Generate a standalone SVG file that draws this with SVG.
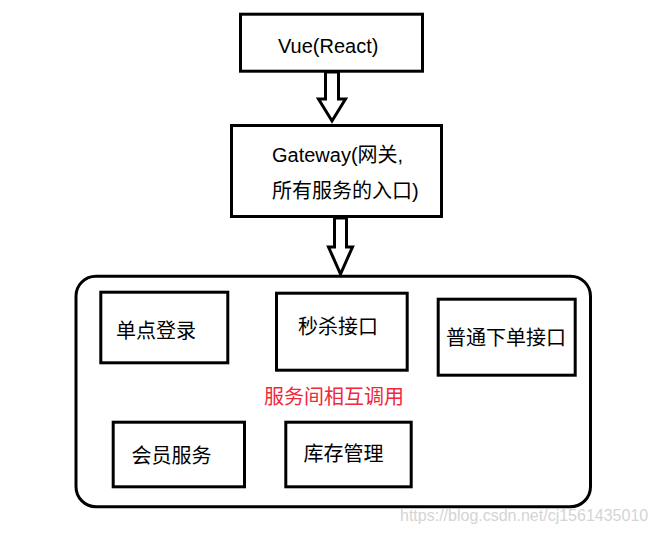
<svg xmlns="http://www.w3.org/2000/svg" width="656" height="533" viewBox="0 0 656 533">
<style>
.box{fill:#fff;stroke:#000;stroke-width:3}
.arr{fill:#fff;stroke:#000;stroke-width:3;stroke-linejoin:miter}
.t{font-family:"Liberation Sans","Noto Sans CJK SC",sans-serif;font-size:20px;fill:#000}
.red{fill:#f0283c}
.wm{font-family:"Liberation Sans",sans-serif;font-size:16px;fill:#d4d4d4}
</style>
<rect x="0" y="0" width="656" height="533" fill="#fff"/>
<g id="container">
<rect class="box" x="76" y="276.2" width="514.5" height="230.5" rx="20" ry="20"/>
</g>
<g id="vue">
<rect class="box" x="240.5" y="14.2" width="182" height="57"/>
<text class="t" x="278" y="53">Vue(React)</text>
</g>
<g id="gateway">
<rect class="box" x="231.5" y="125.5" width="210" height="91"/>
<text class="t" x="272" y="162">Gateway(网关,</text>
<text class="t" x="272" y="198">所有服务的入口)</text>
</g>
<g id="connectors">
<polygon class="arr" points="325.5,72 338.5,72 338.5,99 345.5,99 332,121 318.5,99 325.5,99"/>
<polygon class="arr" points="334.5,218 346.5,218 346.5,247 352.5,247 340.5,274 328.5,247 334.5,247"/>
</g>
<g id="sso">
<rect class="box" x="100.8" y="292.2" width="127" height="70.6"/>
<text class="t" x="116" y="338">单点登录</text>
</g>
<g id="seckill">
<rect class="box" x="276.5" y="293.2" width="130.7" height="77"/>
<text class="t" x="298" y="334">秒杀接口</text>
</g>
<g id="order">
<rect class="box" x="438.2" y="299.2" width="137" height="76"/>
<text class="t" x="446" y="345">普通下单接口</text>
</g>
<g id="member">
<rect class="box" x="113.2" y="422.2" width="131.3" height="64.6"/>
<text class="t" x="131.5" y="463">会员服务</text>
</g>
<g id="stock">
<rect class="box" x="285.8" y="422.2" width="125.4" height="64.6"/>
<text class="t" x="303.5" y="460.5">库存管理</text>
</g>
<text class="t red" x="264" y="404">服务间相互调用</text>
<text class="wm" x="400" y="521">https://blog.csdn.net/cj1561435010</text>
</svg>
